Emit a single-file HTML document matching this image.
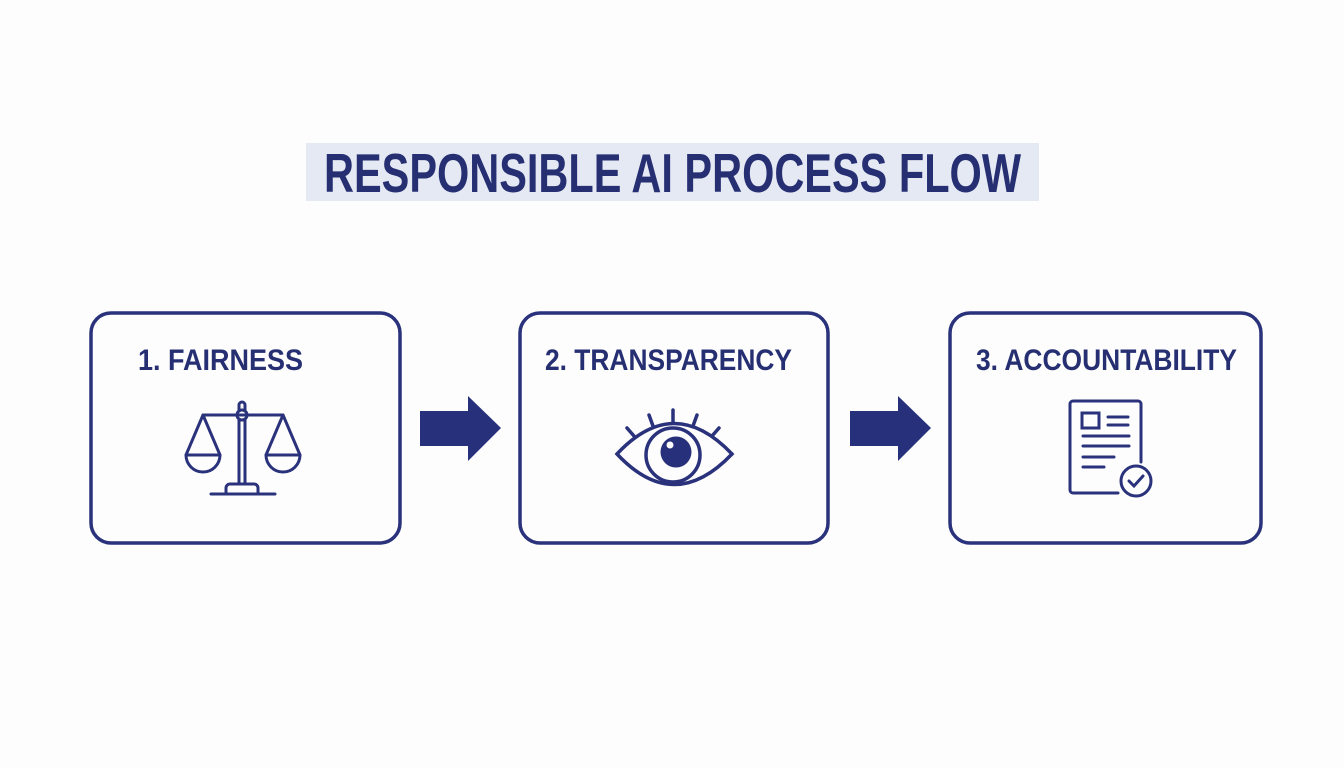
<!DOCTYPE html>
<html><head><meta charset="utf-8"><style>
html,body{margin:0;padding:0;background:#fdfdfd;}
svg{display:block}
text{font-family:"Liberation Sans Narrow","Liberation Sans",sans-serif;font-weight:bold;fill:#262f72;}
</style></head><body>
<svg width="1344" height="768" viewBox="0 0 1344 768" xmlns="http://www.w3.org/2000/svg">
<rect width="1344" height="768" fill="#fdfdfd"/>
<rect x="306" y="143" width="733" height="58" fill="#e4e9f3"/>
<text x="324" y="192" font-size="55" textLength="697" lengthAdjust="spacingAndGlyphs">RESPONSIBLE AI PROCESS FLOW</text>
<g fill="none" stroke="#2a327c" stroke-width="3.5">
<rect x="91" y="313" width="309" height="230" rx="20"/>
<rect x="520" y="313" width="308" height="230" rx="20"/>
<rect x="950" y="313" width="311" height="230" rx="20"/>
</g>
<text x="138" y="370" font-size="30" textLength="165" lengthAdjust="spacingAndGlyphs">1. FAIRNESS</text>
<text x="545" y="370" font-size="30" textLength="247" lengthAdjust="spacingAndGlyphs">2. TRANSPARENCY</text>
<text x="976" y="370" font-size="30" textLength="261" lengthAdjust="spacingAndGlyphs">3. ACCOUNTABILITY</text>
<g fill="#27307a">
<polygon points="420,411 468,411 468,396 501,428 468,461 468,446 420,446"/>
<polygon points="850,411 898,411 898,396 931,428 898,461 898,446 850,446"/>
</g>
<!-- scales -->
<g fill="none" stroke="#2a327c" stroke-width="3" stroke-linecap="round" stroke-linejoin="round">
<line x1="203" y1="415" x2="283" y2="415"/>
<circle cx="242" cy="415" r="5"/>
<path d="M239 410 V405 a3 3 0 0 1 6 0 V410"/>
<rect x="239" y="420" width="6" height="64"/>
<path d="M226 494 V488 a4 4 0 0 1 4-4 H254 a4 4 0 0 1 4 4 V494"/>
<line x1="211" y1="494" x2="275" y2="494"/>
<path d="M203 415 L186 455 M203 415 L220 455"/>
<path d="M186 455 H220 a17 17 0 0 1 -34 0 Z"/>
<path d="M283 415 L266 455 M283 415 L300 455"/>
<path d="M266 455 H300 a17 17 0 0 1 -34 0 Z"/>
</g>
<!-- eye -->
<g fill="none" stroke="#2a327c" stroke-width="3.5" stroke-linecap="round">
<path d="M617 454 Q674 393 732 454 Q674 515 617 454 Z"/>
<circle cx="673" cy="455" r="27"/>
<line x1="673" y1="410" x2="673" y2="422"/>
<line x1="649" y1="415" x2="653" y2="426"/>
<line x1="697" y1="415" x2="693" y2="426"/>
<line x1="627" y1="428" x2="634" y2="436"/>
<line x1="719" y1="428" x2="712" y2="436"/>
</g>
<circle cx="676" cy="452" r="15.5" fill="#27307a"/>
<circle cx="670" cy="445" r="3.5" fill="#fdfdfd"/>
<!-- document -->
<g fill="none" stroke="#2a327c" stroke-width="3" stroke-linecap="round">
<path d="M1118 493 H1073 a3 3 0 0 1 -3-3 V404 a3 3 0 0 1 3-3 H1138 a3 3 0 0 1 3 3 V462"/>
<rect x="1082" y="413" width="17" height="15"/>
<line x1="1108" y1="417" x2="1128" y2="417"/>
<line x1="1108" y1="425" x2="1128" y2="425"/>
<line x1="1083" y1="436" x2="1129" y2="436"/>
<line x1="1083" y1="446" x2="1129" y2="446"/>
<line x1="1083" y1="457" x2="1114" y2="457"/>
<line x1="1083" y1="467" x2="1104" y2="467"/>
<circle cx="1136" cy="481" r="15"/>
<path d="M1129 481 L1134 486 L1143 476"/>
</g>
</svg>
</body></html>
